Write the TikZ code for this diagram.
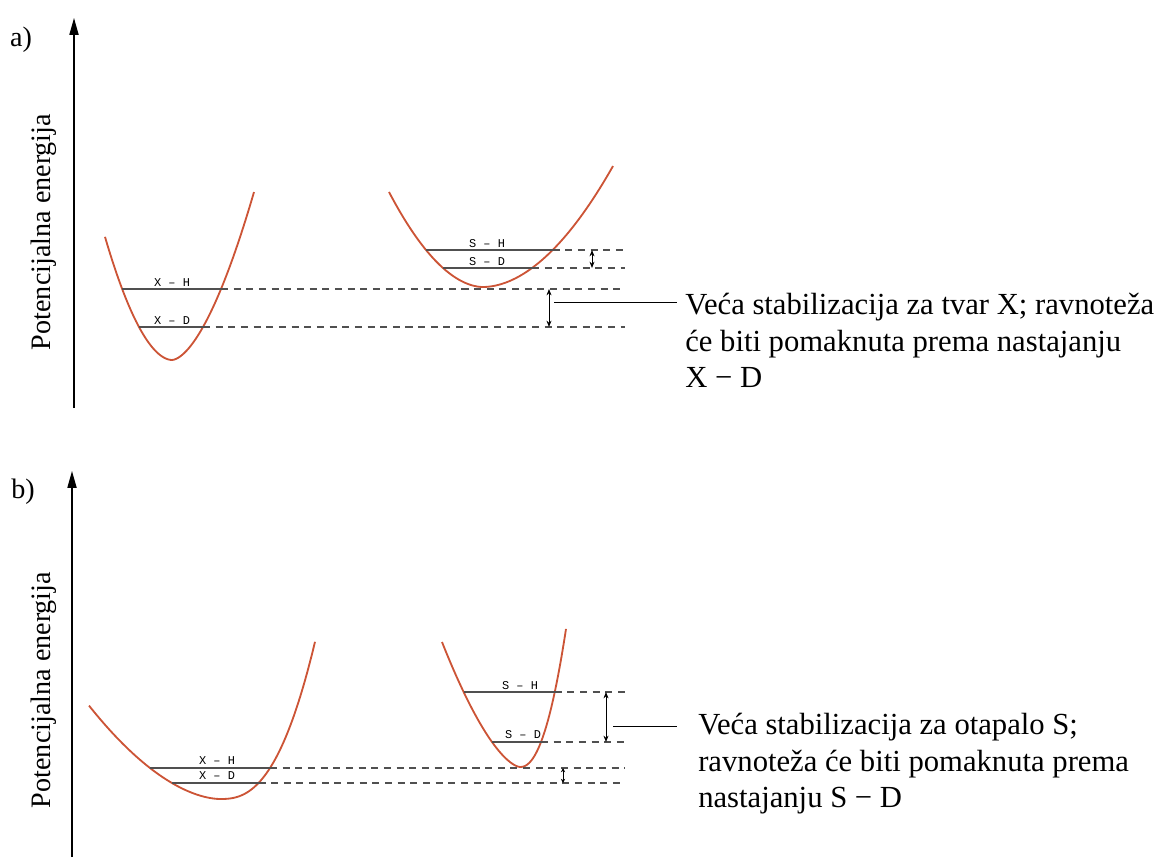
\documentclass[tikz,border=0pt]{standalone}
\usepackage{fontspec}
\setmainfont{Liberation Serif}
\newfontfamily\levelfont{Liberation Mono}
\usetikzlibrary{arrows.meta,intersections,positioning}

\definecolor{wellred}{RGB}{204,84,54}
\definecolor{levelgray}{RGB}{80,80,80}

\begin{document}
\begin{tikzpicture}[
    x=0.025cm, y=-0.025cm,
    >={Stealth[length=4.5pt,width=3.5pt]},
    every node/.style={font=\rmfamily\fontsize{20}{24}\selectfont},
    axis/.style={line width=0.9pt,-{Triangle[length=12pt,width=6.5pt]}},
    well/.style={draw=wellred,line width=1.3pt},
    level/.style={draw=levelgray,line width=0.9pt},
    guide/.style={draw=levelgray,line width=0.8pt,dash pattern=on 5pt off 4pt},
    gap/.style={line width=0.6pt,<->},
    tag/.style={font=\levelfont\fontsize{8.5}{9}\selectfont,inner sep=0.5pt},
    note/.style={align=left,anchor=north west,inner sep=0pt,
                 font=\rmfamily\fontsize{21.8}{26}\selectfont},
  ]
  \useasboundingbox (0,0) rectangle (1164,857);

  % ---- common columns --------------------------------------------------
  \coordinate (edge) at (625,0);      % right end of the dashed levels

  % =====================================================================
  % a)
  % =====================================================================
  \node (labA) at (21,40) {a)};
  \coordinate (axA0) at (74,408);
  \coordinate (axA1) at (74,18);
  \draw[axis] (axA0) -- (axA1);
  \node[rotate=90] (ylabA) at (44,232) {Potencijalna energija};

  % X well
  \draw[well,name path=wellAX]
    plot[domain=-67:0,samples=40] ({172+\x},{360-33*(max(abs(\x),0.01)/33)^1.86})
    -- plot[domain=0:82,samples=40] ({172+\x},{360-33*(max(\x,0.01)/31)^1.673});
  % S well
  \draw[well,name path=wellAS]
    plot[domain=-94:0,samples=40] ({483+\x},{287-19*(max(abs(\x),0.01)/40)^1.884})
    -- plot[domain=0:130,samples=40] ({483+\x},{287-19*(max(\x,0.01)/49)^1.897});

  \path[name path=hAXH] (90,289) -- (300,289);
  \path[name path=hAXD] (90,327) -- (300,327);
  \path[name path=hASH] (380,250) -- (640,250);
  \path[name path=hASD] (380,268) -- (640,268);
  \path[name intersections={of=wellAX and hAXH,by={axhL,axhR},sort by=hAXH}];
  \path[name intersections={of=wellAX and hAXD,by={axdL,axdR},sort by=hAXD}];
  \path[name intersections={of=wellAS and hASH,by={ashL,ashR},sort by=hASH}];
  \path[name intersections={of=wellAS and hASD,by={asdL,asdR},sort by=hASD}];

  \draw[level] (axhL) -- (axhR);
  \draw[level] (axdL) -- (axdR);
  \draw[level] (ashL) -- (ashR);
  \draw[level] (asdL) -- (asdR);
  \draw[guide] (axhR) -- (axhR -| edge);
  \draw[guide] (axdR) -- (axdR -| edge);
  \draw[guide] (ashR) -- (ashR -| edge);
  \draw[guide] (asdR) -- (asdR -| edge);

  \node[tag] (tAXH) at (172,283) {X – H};
  \node[tag] (tAXD) at (172,321) {X – D};
  \node[tag] (tASH) at (487,244) {S – H};
  \node[tag] (tASD) at (487,262) {S – D};

  % level gaps
  \coordinate (colA1) at (549,0);
  \coordinate (colA2) at (592,0);
  \draw[gap] (axhR -| colA1) -- (axdR -| colA1);
  \draw[gap] (ashR -| colA2) -- (asdR -| colA2);

  \coordinate (leadA0) at (554,302);
  \coordinate (leadA1) at (677,302);
  \draw[line width=0.6pt] (leadA0) -- (leadA1);
  \node[note] (noteA) at (685,293) {Veća stabilizacija za tvar X; ravnoteža\\
    će biti pomaknuta prema nastajanju\\ X − D};

  % =====================================================================
  % b)
  % =====================================================================
  \node (labB) at (23,492) {b)};
  \coordinate (axB0) at (72,857);
  \coordinate (axB1) at (72,471);
  \draw[axis] (axB0) -- (axB1);
  \node[rotate=90] (ylabB) at (44,690) {Potencijalna energija};

  % X well
  \draw[well,name path=wellBX]
    plot[domain=-131:0,samples=40] ({220+\x},{799-31*(max(abs(\x),0.01)/70)^1.76})
    -- plot[domain=0:95,samples=40] ({220+\x},{799-31*(max(\x,0.01)/50)^2.53});
  % S well
  \draw[well,name path=wellBS]
    plot[domain=-78:0,samples=40] ({520+\x},{767-25*(max(abs(\x),0.01)/28)^1.571})
    -- plot[domain=0:46,samples=40] ({520+\x},{767-25*(max(\x,0.01)/21)^2.18});

  \path[name path=hBXH] (80,768) -- (340,768);
  \path[name path=hBXD] (80,783) -- (340,783);
  \path[name path=hBSH] (430,692) -- (600,692);
  \path[name path=hBSD] (430,742) -- (600,742);
  \path[name intersections={of=wellBX and hBXH,by={bxhL,bxhR},sort by=hBXH}];
  \path[name intersections={of=wellBX and hBXD,by={bxdL,bxdR},sort by=hBXD}];
  \path[name intersections={of=wellBS and hBSH,by={bshL,bshR},sort by=hBSH}];
  \path[name intersections={of=wellBS and hBSD,by={bsdL,bsdR},sort by=hBSD}];

  \draw[level] (bxhL) -- (bxhR);
  \draw[level] (bxdL) -- (bxdR);
  \draw[level] (bshL) -- (bshR);
  \draw[level] (bsdL) -- (bsdR);
  \draw[guide] (bxhR) -- (bxhR -| edge);
  \draw[guide] (bxdR) -- (bxdR -| edge);
  \draw[guide] (bshR) -- (bshR -| edge);
  \draw[guide] (bsdR) -- (bsdR -| edge);

  \node[tag] (tBXH) at (217,761) {X – H};
  \node[tag] (tBXD) at (217,776) {X – D};
  \node[tag] (tBSH) at (520,686) {S – H};
  \node[tag] (tBSD) at (523,735) {S – D};

  % level gaps
  \coordinate (colB1) at (606,0);
  \coordinate (colB2) at (563,0);
  \draw[gap] (bshR -| colB1) -- (bsdR -| colB1);
  \draw[gap,>={Stealth[length=3pt,width=3pt]}] (bxhR -| colB2) -- (bxdR -| colB2);

  \coordinate (leadB0) at (613,726);
  \coordinate (leadB1) at (677,726);
  \draw[line width=0.6pt] (leadB0) -- (leadB1);
  \node[note] (noteB) at (698,713) {Veća stabilizacija za otapalo S;\\
    ravnoteža će biti pomaknuta prema\\ nastajanju S − D};

\end{tikzpicture}
\end{document}
